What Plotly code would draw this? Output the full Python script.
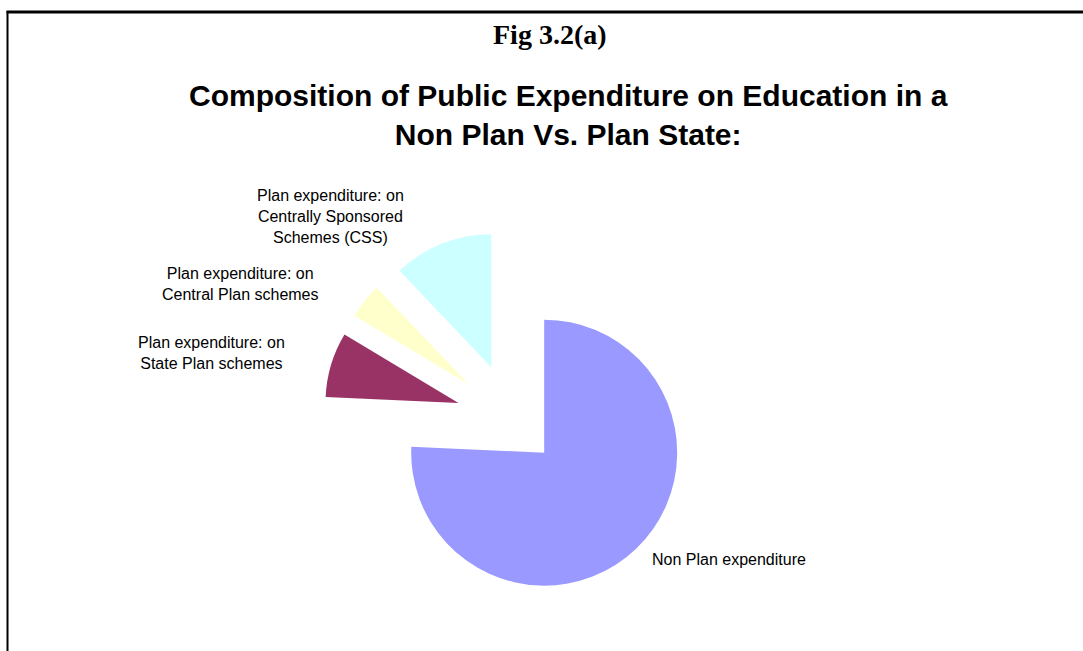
import plotly.graph_objects as go

W, H = 1083, 651

# ---- data ----
categories = [
    "Non Plan expenditure",
    "Plan expenditure: on State Plan schemes",
    "Plan expenditure: on Central Plan schemes",
    "Plan expenditure: on Centrally Sponsored Schemes (CSS)",
]
shares = [75.7, 7.9, 4.3, 12.1]
colors = ["#9999FF", "#993366", "#FFFFCC", "#CCFFFF"]
pulls = [0.35, 0.42, 0.42, 0.42]

label_texts = [
    "Non Plan expenditure",
    "Plan expenditure: on<br>State Plan schemes",
    "Plan expenditure: on<br>Central Plan schemes",
    "Plan expenditure: on<br>Centrally Sponsored<br>Schemes (CSS)",
]


def px(x):
    return x / W


def py(y):
    return 1 - y / H


# pie geometry (pixels)
cx, cy, r = 512, 419, 133
half = r * (1 + max(pulls))

fig = go.Figure(
    go.Pie(
        labels=categories,
        values=shares,
        sort=False,
        direction="clockwise",
        rotation=0,
        pull=pulls,
        marker=dict(colors=colors, line=dict(width=0)),
        textinfo="none",
        showlegend=False,
        domain=dict(
            x=[px(cx - half), px(cx + half)],
            y=[py(cy + half), py(cy - half)],
        ),
    )
)

annotations = [
    dict(text="<b>Fig 3.2(a)</b>", x=px(550), y=py(34),
         font=dict(family="Liberation Serif", size=28, color="black")),
    dict(text="<b>Composition of Public Expenditure on Education in a<br>Non Plan Vs. Plan State:</b>",
         x=px(568), y=py(115),
         font=dict(family="Liberation Sans", size=30, color="black")),
    dict(text=label_texts[0], x=px(650), y=py(559), xanchor="left",
         font=dict(family="Liberation Sans", size=16, color="black")),
    dict(text=label_texts[1], x=px(211), y=py(353),
         font=dict(family="Liberation Sans", size=16, color="black")),
    dict(text=label_texts[2], x=px(240), y=py(284),
         font=dict(family="Liberation Sans", size=16, color="black")),
    dict(text=label_texts[3], x=px(330), y=py(216),
         font=dict(family="Liberation Sans", size=16, color="black")),
]
for a in annotations:
    a.setdefault("xanchor", "center")
    a.update(xref="paper", yref="paper", yanchor="middle", showarrow=False, align="center")

shapes = [
    dict(type="line", xref="paper", yref="paper", x0=px(6.5), x1=px(1083), y0=py(12), y1=py(12),
         line=dict(color="black", width=3)),
    dict(type="line", xref="paper", yref="paper", x0=px(7.5), x1=px(7.5), y0=py(11), y1=py(651),
         line=dict(color="black", width=2)),
]

fig.update_layout(
    width=W, height=H, autosize=False,
    margin=dict(l=0, r=0, t=0, b=0),
    paper_bgcolor="white", plot_bgcolor="white",
    annotations=annotations, shapes=shapes,
)

fig.write_html("out.html")
